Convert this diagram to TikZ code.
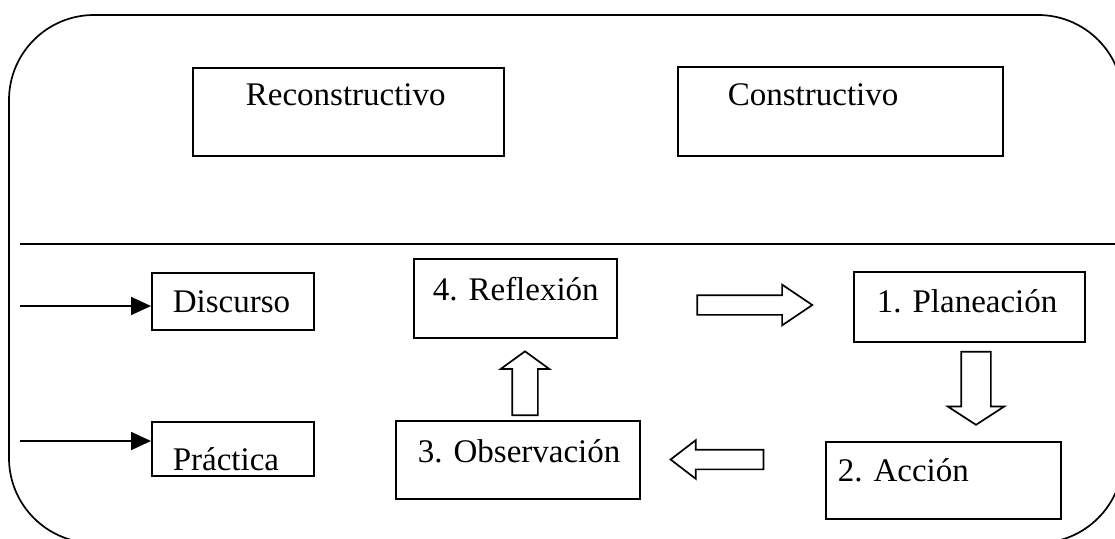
\documentclass[tikz,border=0pt]{standalone}
\usepackage{fontspec}
\setmainfont{Liberation Serif}
\usetikzlibrary{shapes.arrows,arrows.meta}
\tikzset{
    every node/.style={rectangle, draw, inner sep=0mm, font=\fontsize{33}{40}\selectfont\frenchspacing}
}
\tikzset{
    caja/.style n args={4}{anchor=north west, align=left, inner xsep=#1, text width=#2, text height=#3, text depth=#4,
        execute at begin node=\hbox\bgroup, execute at end node=\egroup},
    flecha/.style n args={5}{single arrow, minimum height=#1, inner sep=#2, minimum width=#3, single arrow head extend=#4, single arrow tip angle=#5}
}

\begin{document}
\begin{tikzpicture}[x=1pt, y=-1pt, line width=1.7pt]
    \useasboundingbox (0,0) rectangle (1115,538);
    \clip (0,0) rectangle (1115,538);

    \draw[rounded corners=85pt] (9,15) rectangle (1123,543);
    \coordinate (ha) at (20,244);
    \coordinate (hb) at (1123,244);
    \draw (ha) -- (hb);

    \node (rec) at (192,67) [caja={53pt}{205pt}{38pt}{50pt}] {Reconstructivo};
    \node (con) at (677,66) [caja={50pt}{225pt}{39pt}{50pt}] {Constructivo};

    \node (disc) at (151,272) [caja={21pt}{120pt}{40pt}{17pt}] {Discurso};
    \node (prac) at (151,421) [caja={21pt}{120pt}{49pt}{5pt}] {Práctica};

    \node (refl) at (413,258) [caja={19pt}{165pt}{42pt}{37pt}] {4. Reflexión};
    \node (plan) at (853,271) [caja={23pt}{185pt}{41pt}{29pt}] {1. Planeación};
    \node (obs) at (395,420) [caja={22pt}{200pt}{42pt}{36pt}] {3. Observación};
    \node (acc) at (825,441) [caja={12pt}{211pt}{40pt}{37pt}] {2. Acción};

    \coordinate (ea) at (20,306);
    \coordinate (eb) at (20,441);
    \draw[-{Triangle[length=20pt,width=18pt]}] (ea) -- (disc.west |- ea);
    \draw[-{Triangle[length=20pt,width=18pt]}] (eb) -- (prac.west |- eb);

    \node (fa) at (747.5,305) [flecha={115pt}{9pt}{39pt}{10.5pt}{68}] {};
    \node (fb) at (525,388) [flecha={64pt}{12pt}{47pt}{11.5pt}{108}, shape border rotate=90] {};
    \node (fc) at (976,383.5) [flecha={73pt}{14pt}{55pt}{13.5pt}{114}, shape border rotate=270] {};
    \node (fd) at (723.5,459.5) [flecha={93pt}{9pt}{37pt}{9.5pt}{75}, shape border rotate=180] {};
\end{tikzpicture}
\end{document}
